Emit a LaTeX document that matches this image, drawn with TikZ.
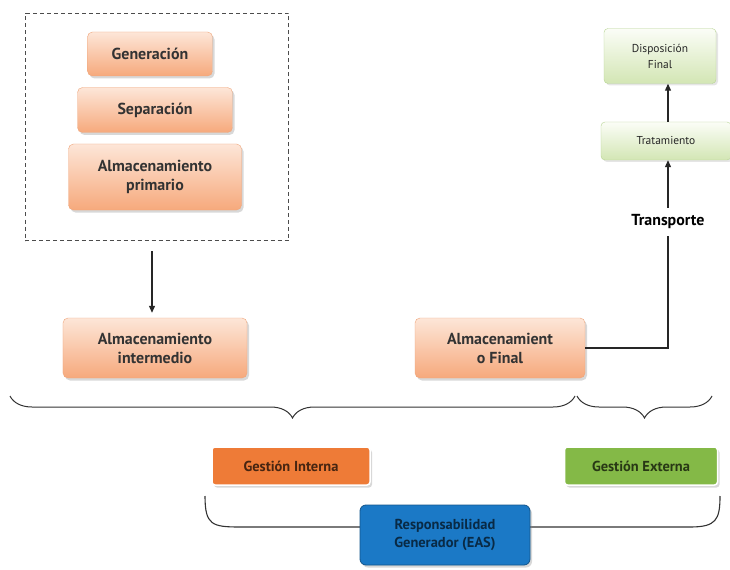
\documentclass[tikz,border=0pt]{standalone}
\usepackage{fontspec}
\setmainfont{PT Sans}
\usetikzlibrary{arrows.meta,shadows,decorations.pathreplacing}
\definecolor{peachtop}{HTML}{FDE6D8}
\definecolor{peachbot}{HTML}{F6A97C}
\definecolor{peachline}{HTML}{EFA57A}
\definecolor{greentop}{HTML}{FBFDF7}
\definecolor{greenbot}{HTML}{D3E6B4}
\definecolor{greenline}{HTML}{B7D493}
\definecolor{orangebox}{HTML}{EE7B37}
\definecolor{greenbox}{HTML}{84B947}
\definecolor{bluebox}{HTML}{1B79C6}

\begin{document}
\begin{tikzpicture}[x=1bp,y=-1bp]
\useasboundingbox[fill=white] (0,0) rectangle (730,570);
\tikzstyle{peach}=[rounded corners=5bp, draw=peachline, top color=peachtop, bottom color=peachbot,
  drop shadow={opacity=0.3, shadow xshift=2bp, shadow yshift=-2.5bp},
  font=\bfseries\fontsize{16}{19}\selectfont, text=black!80, align=center, inner sep=2bp]
\tikzstyle{leaf}=[rounded corners=4bp, draw=greenline, top color=greentop, bottom color=greenbot,
  drop shadow={opacity=0.2, shadow xshift=2bp, shadow yshift=-2bp},
  font=\fontsize{11.5}{16}\selectfont, text=black!85, align=center, inner sep=2bp]
\tikzstyle{tag}=[rounded corners=3bp, draw=white, line width=1.5bp,
  drop shadow={opacity=0.3, shadow xshift=2bp, shadow yshift=-2.5bp},
  font=\bfseries\fontsize{14.5}{18}\selectfont, align=center, inner sep=2bp]
\tikzstyle{arr}=[-{Triangle[length=7bp,width=6bp]}, line width=1.1bp, black!85]
% generador
\node[draw=black!70, dash pattern=on 4bp off 3bp, line width=1.2bp, minimum width=263bp, minimum height=227bp](grp) at (157,127){};
\node[peach, minimum width=125bp, minimum height=44bp](gen) at (150,54){Generación};
\node[peach, minimum width=155bp, minimum height=45bp](sep) at (155,110){Separación};
\node[peach, minimum width=173bp, minimum height=66bp](alp) at (155,177){Almacenamiento\\primario};
\node[peach, minimum width=184bp, minimum height=60bp](ain) at (155,348){Almacenamiento\\intermedio};
\node[peach, minimum width=170bp, minimum height=60bp](afi) at (500,348){Almacenamient\\o Final};
% externo
\node[leaf, minimum width=112bp, minimum height=55bp](dis) at (660,56){Disposición\\Final};
\node[leaf, minimum width=130bp, minimum height=38bp](tta) at (666,141){Tratamiento};
\node[font=\bfseries\fontsize{16}{19}\selectfont, inner sep=7bp](tra) at (668,222){Transporte};
\draw[line width=1.1bp, black!85] (afi.east) -| (tra.south);
\draw[arr] (tra.north) -- (tra.north |- tta.south);
\draw[arr] (tra.north |- tta.north) -- (tra.north |- dis.south);
\draw[arr, shorten <=10bp, shorten >=5bp] (grp.south -| 152,0) -- (ain.north -| 152,0);
% llaves
\draw[decorate, decoration={brace, mirror, amplitude=22bp}, line width=1bp, black!80] (10,396) -- (575,396);
\draw[decorate, decoration={brace, mirror, amplitude=22bp}, line width=1bp, black!80] (577,396) -- (712,396);
\draw[line width=1.1bp, black!80] (205,496) .. controls (205,525) and (212,527) .. (240,527) -- (690,527)
  .. controls (716,527) and (720,520) .. (720,496);
\node[tag, fill=orangebox, text=orangebox!30!black, minimum width=158bp, minimum height=38bp](gin) at (291,466){Gestión Interna};
\node[tag, fill=greenbox, text=greenbox!30!black, minimum width=153bp, minimum height=38bp](gex) at (641,466){Gestión Externa};
\node[tag, fill=bluebox, draw=bluebox!70!black, line width=0.8bp, text=bluebox!35!black, minimum width=170bp, minimum height=60bp, rounded corners=6bp](res) at (445,535){Responsabilidad\\Generador (EAS)};
\end{tikzpicture}
\end{document}
